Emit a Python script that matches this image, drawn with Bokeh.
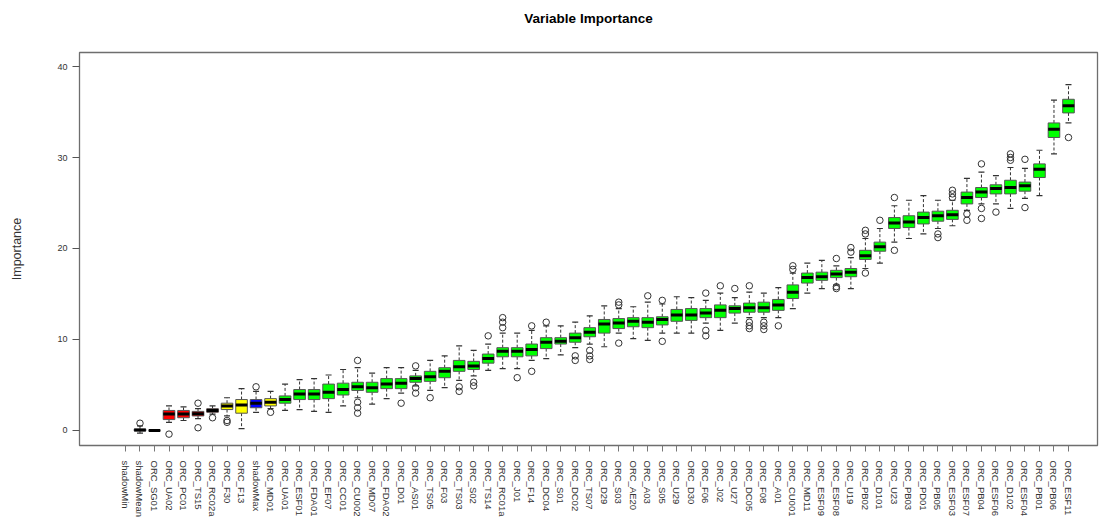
from bokeh.plotting import figure
from bokeh.models import Range1d, FixedTicker, ColumnDataSource, LinearAxis
from bokeh.embed import file_html
from bokeh.resources import INLINE

title_text = "Variable Importance"

labels = ["shadowMin", "shadowMean", "ORC_SG01", "ORC_UA02", "ORC_PC01", "ORC_TS15", "ORC_RC02a",
          "ORC_F30", "ORC_F13", "shadowMax", "ORC_MD01", "ORC_UA01", "ORC_ESF01", "ORC_FDA01",
          "ORC_EF07", "ORC_CC01", "ORC_CU002", "ORC_MD07", "ORC_FDA02", "ORC_D01", "ORC_AS01",
          "ORC_TS05", "ORC_F03", "ORC_TS03", "ORC_S02", "ORC_TS14", "ORC_RC01a", "ORC_J01",
          "ORC_F14", "ORC_DC04", "ORC_S01", "ORC_DC02", "ORC_TS07", "ORC_D29", "ORC_S03",
          "ORC_AE20", "ORC_A03", "ORC_S05", "ORC_U29", "ORC_D30", "ORC_F06", "ORC_J02",
          "ORC_U27", "ORC_DC05", "ORC_F08", "ORC_A01", "ORC_CU001", "ORC_MD11", "ORC_ESF09",
          "ORC_ESF08", "ORC_U19", "ORC_PB02", "ORC_D101", "ORC_U23", "ORC_PB03", "ORC_PD01",
          "ORC_PB05", "ORC_ESF03", "ORC_ESF07", "ORC_PB04", "ORC_ESF06", "ORC_D102", "ORC_ESF04",
          "ORC_PB01", "ORC_PB06", "ORC_ESF11"]

status = (["Shadow", "Shadow", "Rejected", "Rejected", "Rejected", "Rejected", "Rejected",
           "Tentative", "Tentative", "Shadow", "Tentative"] + ["Confirmed"] * 55)

whisker_low = [None, -0.3, 0.0, 0.9, 1.1, 1.3, 1.8, 1.6, 0.2, 2.0, 2.4, 2.2, 2.3, 2.1, 2.0, 2.7,
               3.6, 2.9, 3.5, 4.1, 4.9, 4.4, 4.7, 5.5, 6.0, 6.6, 6.8, 6.8, 7.7, 7.9, 8.3, 9.1,
               9.5, 9.2, 10.7, 10.1, 9.9, 10.7, 10.7, 10.7, 11.8, 11.0, 11.8, 12.4, 12.4, 12.4,
               13.4, 15.1, 15.6, 16.0, 15.6, 17.8, 18.4, 20.7, 21.1, 21.6, 22.2, 22.5, 24.2,
               24.9, 24.9, 24.4, 25.5, 25.8, 30.4, 33.8]
q1 = [None, -0.05, 0.0, 1.2, 1.4, 1.6, 2.0, 2.3, 1.9, 2.5, 2.7, 3.0, 3.4, 3.4, 3.5, 3.9,
      4.4, 4.2, 4.6, 4.6, 5.3, 5.4, 5.8, 6.5, 6.7, 7.4, 8.1, 8.1, 8.2, 9.0, 9.5, 9.7,
      10.3, 10.7, 11.2, 11.4, 11.3, 11.6, 12.0, 12.1, 12.4, 12.4, 12.9, 13.0, 13.0, 13.2,
      14.5, 16.2, 16.5, 16.8, 16.9, 18.8, 19.7, 22.2, 22.3, 22.7, 23.0, 23.2, 24.9,
      25.6, 26.0, 26.0, 26.3, 27.8, 32.2, 34.9]
median = [None, 0.05, 0.0, 1.8, 1.8, 1.85, 2.2, 2.7, 2.8, 3.0, 3.1, 3.4, 4.0, 4.0, 4.2, 4.5,
          4.8, 4.7, 5.1, 5.2, 5.7, 5.9, 6.5, 7.0, 7.1, 7.9, 8.7, 8.7, 8.9, 9.7, 9.8, 10.2,
          10.8, 11.7, 11.8, 12.0, 11.9, 12.2, 12.7, 12.7, 12.9, 13.2, 13.4, 13.5, 13.5, 13.8,
          15.2, 16.8, 16.9, 17.2, 17.4, 19.2, 20.2, 22.8, 22.9, 23.4, 23.6, 23.7, 25.6,
          26.2, 26.6, 26.7, 26.9, 28.7, 33.1, 35.7]
q3 = [None, 0.15, 0.0, 2.2, 2.2, 2.1, 2.4, 3.0, 3.4, 3.4, 3.5, 3.8, 4.5, 4.5, 5.1, 5.2,
      5.3, 5.3, 5.7, 5.7, 6.0, 6.5, 6.9, 7.7, 7.6, 8.4, 9.1, 9.1, 9.5, 10.2, 10.2, 10.7,
      11.3, 12.2, 12.3, 12.4, 12.4, 12.5, 13.3, 13.4, 13.4, 13.8, 13.7, 14.0, 14.1, 14.4,
      16.0, 17.3, 17.4, 17.6, 17.8, 19.8, 20.7, 23.4, 23.6, 24.0, 24.1, 24.2, 26.2,
      26.7, 27.0, 27.5, 27.3, 29.3, 33.8, 36.4]
whisker_high = [None, 0.5, 0.0, 2.7, 2.6, 2.4, 2.7, 3.6, 4.6, 4.3, 4.3, 5.1, 5.6, 5.7, 6.1, 6.7,
                6.9, 6.3, 6.9, 6.9, 6.6, 7.7, 8.2, 9.3, 8.8, 9.5, 10.7, 10.7, 11.0, 11.5, 11.5,
                11.9, 12.6, 13.7, 13.4, 13.6, 14.1, 13.9, 14.7, 14.6, 14.3, 15.1, 14.6, 15.2,
                15.1, 15.7, 17.3, 18.4, 18.7, 18.1, 19.0, 21.1, 22.2, 24.7, 25.3, 25.8, 25.3,
                25.3, 27.7, 28.4, 28.0, 28.9, 28.8, 30.8, 36.3, 38.0]
outliers = [[], [0.8], [], [-0.4], [], [3.0, 0.3], [1.4], [1.1, 0.9], [], [4.8], [2.0], [], [], [],
            [], [], [7.7, 3.1, 2.5, 1.9], [], [], [3.0], [7.1, 4.7, 4.1], [3.6], [], [4.8, 4.3],
            [5.3, 4.9], [10.4], [11.3, 11.9, 12.4], [5.8], [11.5, 6.5], [11.9], [], [8.2, 7.7],
            [8.8, 8.2, 7.8], [], [13.8, 14.1, 9.6], [], [14.8], [14.3, 9.8], [], [],
            [15.1, 11.0, 10.4], [15.9], [15.6], [15.9, 11.9, 11.5, 11.2], [11.9, 11.5, 11.1],
            [11.5], [17.7, 18.1], [], [], [18.9, 15.8, 15.6], [19.6, 20.1], [21.6, 22.0, 17.3],
            [23.1], [25.6, 19.8], [], [], [21.6, 21.2], [25.6, 26.0, 26.4], [23.8, 23.1],
            [29.3, 24.4, 23.3], [24.0], [29.7, 30.0, 30.4], [29.8, 24.5], [], [], [32.2]]

status_colors = {"Confirmed": "#00ff00", "Tentative": "#ffff00", "Rejected": "#ff0000", "Shadow": "#0000ff"}

positions = list(range(1, len(labels) + 1))
idx = [i for i in range(len(labels)) if median[i] is not None]

box_src = ColumnDataSource(dict(
    x=[positions[i] for i in idx],
    lo=[whisker_low[i] for i in idx],
    q1=[q1[i] for i in idx],
    med=[median[i] for i in idx],
    q3=[q3[i] for i in idx],
    hi=[whisker_high[i] for i in idx],
    color=[status_colors[status[i]] for i in idx],
))

ox, oy = [], []
for i, vals in enumerate(outliers):
    for v in vals:
        ox.append(positions[i])
        oy.append(v)
out_src = ColumnDataSource(dict(x=ox, y=oy))

x_lo, x_hi = -2.17, 68.0
y_lo, y_hi = -1.65, 41.54

p = figure(width=1099, height=520, output_backend="svg", toolbar_location=None,
           x_range=Range1d(x_lo, x_hi), y_range=Range1d(y_lo, y_hi),
           min_border_left=79, min_border_right=2, min_border_top=52, min_border_bottom=75)

# chart title, drawn as the label of a bare axis above the frame
title_axis = LinearAxis(ticker=FixedTicker(ticks=[]), axis_line_color=None,
                        major_tick_line_color=None, minor_tick_line_color=None,
                        major_tick_out=0, major_label_text_font_size="0px",
                        axis_label=title_text, axis_label_standoff=27,
                        axis_label_text_font="Liberation Sans",
                        axis_label_text_font_size="13.5px",
                        axis_label_text_font_style="bold",
                        axis_label_text_color="#000000")
p.add_layout(title_axis, "above")

p.grid.visible = False
p.background_fill_color = "white"
p.border_fill_color = "white"
p.outline_line_color = "#6e6e6e"
p.outline_line_width = 1.3

# whiskers
p.segment(x0="x", y0="q3", x1="x", y1="hi", source=box_src, line_color="#333333",
          line_width=1, line_dash="3 2")
p.segment(x0="x", y0="q1", x1="x", y1="lo", source=box_src, line_color="#333333",
          line_width=1, line_dash="3 2")
# staples
p.scatter(x="x", y="hi", source=box_src, marker="dash", size=6, line_color="#333333", line_width=1.2)
p.scatter(x="x", y="lo", source=box_src, marker="dash", size=6, line_color="#333333", line_width=1.2)
# boxes
p.vbar(x="x", width=0.8, top="q3", bottom="q1", source=box_src, fill_color="color",
       line_color="#555555", line_width=1)
# medians
p.rect(x="x", y="med", width=0.8, height=3, height_units="screen", source=box_src,
       fill_color="#000000", line_color=None)
# outliers
p.scatter(x="x", y="y", source=out_src, marker="circle", size=6.5, fill_color=None,
          line_color="#333333", line_width=1)

xa = p.below[0]
xa.ticker = FixedTicker(ticks=positions)
xa.major_label_overrides = {pos: lab for pos, lab in zip(positions, labels)}
xa.major_label_orientation = "vertical"
xa.axis_line_color = None
xa.major_tick_line_color = "#777777"
xa.major_tick_out = 6
xa.major_tick_in = 0
xa.minor_tick_line_color = None
xa.major_label_standoff = 9
xa.major_label_text_font = "Liberation Sans"
xa.major_label_text_font_size = "9.5px"
xa.major_label_text_color = "#333333"

ya = p.left[0]
ya.ticker = FixedTicker(ticks=[0, 10, 20, 30, 40])
ya.axis_line_color = None
ya.major_tick_line_color = "#555555"
ya.major_tick_out = 7
ya.major_tick_in = 0
ya.minor_tick_line_color = None
ya.major_label_standoff = 5
ya.major_label_orientation = "horizontal"
ya.major_label_text_font = "Liberation Sans"
ya.major_label_text_font_size = "9px"
ya.major_label_text_color = "#333333"
ya.axis_label = "Importance"
ya.axis_label_text_font = "Liberation Sans"
ya.axis_label_text_font_size = "12.5px"
ya.axis_label_text_font_style = "normal"
ya.axis_label_text_color = "#333333"
ya.axis_label_standoff = 30

open("out.html", "w").write(file_html(p, INLINE))
